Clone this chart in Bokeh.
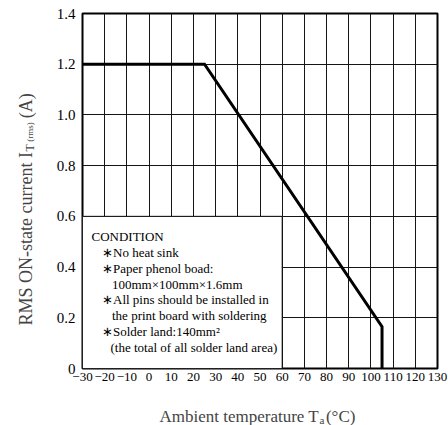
import math
from bokeh.plotting import figure
from bokeh.models import FixedTicker, Label, Range1d
from bokeh.layouts import row, column
from bokeh.embed import file_html
from bokeh.resources import INLINE

# ---------------- data ----------------
temp_c = [-30, 25, 105, 105]
current_a = [1.2, 1.2, 0.165, 0.0]

x_ticks = [-30, -20, -10, 0, 10, 20, 30, 40, 50, 60, 70, 80, 90, 100, 110, 120, 130]
x_tick_labels = ["\u221230", "\u221220", "\u221210", "0", "10", "20", "30", "40", "50",
                 "60", "70", "80", "90", "100", "110", "120", "130"]
y_ticks = [0, 0.2, 0.4, 0.6, 0.8, 1.0, 1.2, 1.4]
y_tick_labels = ["0", "0.2", "0.4", "0.6", "0.8", "1.0", "1.2", "1.4"]

condition_x = [-30, 60]
condition_y = [0, 0.6]
condition_lines = [
    "CONDITION",
    "\u2217No heat sink",
    "\u2217Paper phenol boad:",
    "100mm\u00d7100mm\u00d71.6mm",
    "\u2217All pins should be installed in",
    "the print board with soldering",
    "\u2217Solder land:140mm\u00b2",
    "(the total of all solder land area)",
]

# ---------------- layout ----------------
PAGE_W, PAGE_H = 448, 425
LEFT_W = 40                 # panel holding the y-axis title
MAIN_W, MAIN_H = PAGE_W - LEFT_W, 395
BOT_H = PAGE_H - MAIN_H     # full-width panel holding the x-axis title
FL, FT, FR, FB = 82, 13, 437, 368   # frame edges on the page
X0, X1, Y0, Y1 = -30, 130, 0, 1.4
SERIF = "Liberation Serif"


def dx(px):
    return X0 + (px - FL) * (X1 - X0) / (FR - FL)


def dy(py):
    return Y0 + (FB - py) * (Y1 - Y0) / (FB - FT)


p = figure(width=MAIN_W, height=MAIN_H, x_range=Range1d(X0, X1), y_range=Range1d(Y0, Y1),
           output_backend="svg", toolbar_location=None,
           min_border_left=FL - LEFT_W, min_border_right=LEFT_W + MAIN_W - FR,
           min_border_top=FT, min_border_bottom=MAIN_H - FB)
p.background_fill_color = "white"
p.border_fill_color = "white"
p.outline_line_color = "black"
p.outline_line_width = 2

p.xgrid.ticker = FixedTicker(ticks=x_ticks)
p.ygrid.ticker = FixedTicker(ticks=y_ticks)
for g in (p.xgrid, p.ygrid):
    g.grid_line_color = "#151515"
    g.grid_line_width = 1
    g.grid_line_alpha = 1.0

p.xaxis.ticker = FixedTicker(ticks=x_ticks)
p.yaxis.ticker = FixedTicker(ticks=y_ticks)
p.xaxis.major_label_overrides = dict(zip(x_ticks, x_tick_labels))
p.yaxis.major_label_overrides = dict(zip(y_ticks, y_tick_labels))
for ax in (p.xaxis, p.yaxis):
    ax.axis_line_color = None
    ax.major_tick_line_color = None
    ax.minor_tick_line_color = None
    ax.major_tick_out = 0
    ax.major_tick_in = 0
    ax.major_label_text_font = SERIF
    ax.major_label_text_color = "black"
p.xaxis.major_label_text_font_size = "13px"
p.yaxis.major_label_text_font_size = "15px"
p.xaxis.major_label_standoff = 4
p.yaxis.major_label_standoff = 7

# condition box
p.quad(left=[condition_x[0]], right=[condition_x[1]], bottom=[condition_y[0]], top=[condition_y[1]],
       fill_color="white", line_color="black", line_width=1)

# derating curve
p.line(temp_c, current_a, line_width=3, line_color="black", line_join="miter")

# condition texts
text_x = [91, 101.5, 101.5, 111.5, 101.5, 111.5, 101.5, 110]
text_y = [236, 252, 268, 283.7, 299.3, 315.3, 331, 347]
for t, tx, ty in zip(condition_lines, text_x, text_y):
    p.add_layout(Label(x=dx(tx), y=dy(ty), text=t, text_font=SERIF, text_font_size="13px",
                       text_align="left", text_baseline="middle", text_color="black"))


def blank_panel(w, h):
    f = figure(frame_width=w, frame_height=h, x_range=Range1d(0, w), y_range=Range1d(0, h),
               title=None, output_backend="svg", toolbar_location=None,
               x_axis_type=None, y_axis_type=None,
               min_border_left=0, min_border_right=0, min_border_top=0, min_border_bottom=0)
    f.outline_line_color = None
    f.background_fill_color = "white"
    f.border_fill_color = "white"
    return f


# ---- y axis title panel (rotated text); local y measured up from panel bottom ----
left = blank_panel(LEFT_W, MAIN_H)


def ly(py):
    return MAIN_H - py


fy = 18
yb = 25          # baseline x on page
y_start = 312    # page y where the text starts (bottom end)
w1 = 9.637 * fy
ang = math.pi / 2
left.add_layout(Label(x=yb, y=ly(y_start), text="RMS ON-state current I", angle=ang,
                      text_font=SERIF, text_font_size=f"{fy}px", text_align="left",
                      text_baseline="alphabetic"))
t_start = y_start - w1 - 0.5
left.add_layout(Label(x=yb + 4, y=ly(t_start), text="T", angle=ang,
                      text_font=SERIF, text_font_size="12px", text_align="left",
                      text_baseline="alphabetic"))
rms_start = t_start - 0.611 * 12 - 2.5
left.add_layout(Label(x=yb + 4, y=ly(rms_start), text="(rms)", angle=ang,
                      text_font=SERIF, text_font_size="9px", text_align="left",
                      text_baseline="alphabetic"))
a_start = rms_start - 2.166 * 9 - 4
left.add_layout(Label(x=yb, y=ly(a_start), text="(A)", angle=ang,
                      text_font=SERIF, text_font_size=f"{fy}px", text_align="left",
                      text_baseline="alphabetic"))

# ---- x axis title panel (full width); local x = page x ----
bot = blank_panel(PAGE_W, BOT_H)


def by(py):
    return PAGE_H - py


fs_main, fs_sub = 17, 11
x_start = 159
xb = 416
w_main = 9.387 * fs_main
bot.add_layout(Label(x=x_start, y=by(xb), text="Ambient temperature T", text_font=SERIF,
                     text_font_size=f"{fs_main}px", text_align="left", text_baseline="alphabetic"))
sub_start = x_start + w_main + 0.5
bot.add_layout(Label(x=sub_start, y=by(xb + 3), text="a", text_font=SERIF,
                     text_font_size=f"{fs_sub}px", text_align="left", text_baseline="alphabetic"))
bot.add_layout(Label(x=sub_start + 0.444 * fs_sub + 1.5, y=by(xb), text=" (\u00b0C)", text_font=SERIF,
                     text_font_size=f"{fs_main}px", text_align="left", text_baseline="alphabetic"))

layout = column(row(left, p), bot)
open("out.html", "w").write(file_html(layout, INLINE))
